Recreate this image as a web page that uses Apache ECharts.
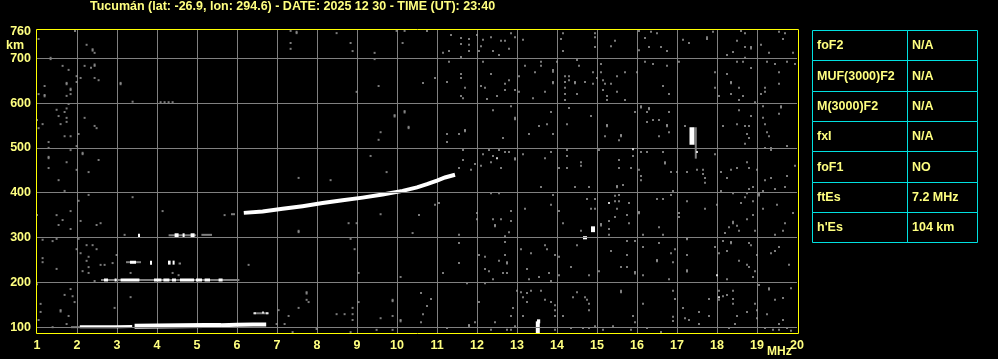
<!DOCTYPE html>
<html>
<head>
<meta charset="utf-8">
<script src="https://cdn.jsdelivr.net/npm/echarts@6/dist/echarts.min.js"></script>
<style>
html,body{margin:0;padding:0;background:#000;}
#chart{width:998px;height:359px;}
</style>
</head>
<body>
<div id="chart"></div>
<script>
// ---------- DATA ----------
const titleText = 'Tucumán (lat: -26.9, lon: 294.6) - DATE: 2025 12 30 - TIME (UT): 23:40';
const heightLabels = [100, 200, 300, 400, 500, 600, 700, 760];
const heightGridLines = [100, 200, 300, 400, 500, 600, 700];
const tableLabels = ['foF2', 'MUF(3000)F2', 'M(3000)F2', 'fxI', 'foF1', 'ftEs', "h'Es"];
const tableValues = ['N/A', 'N/A', 'N/A', 'N/A', 'NO', '7.2 MHz', '104 km'];

// Es trace (bright echo ~103 km)
const esThin = [[[2.07, 101], [2.6, 101], [3.0, 101], [3.38, 101.5]]];
const esThick = [[[3.44, 102], [4.0, 102.5], [4.6, 103], [5.2, 103.5], [5.6, 104]]];
const esUpper = [[[5.6, 104.5], [6.0, 105.5], [6.4, 106], [6.73, 106]]];
// F-layer trace
const fTrace = [[[6.17, 355], [6.64, 358], [7.14, 364], [7.64, 370], [8.14, 377], [8.64, 383], [9.14, 389], [9.64, 396], [10.14, 404], [10.5, 412], [10.75, 419], [11.0, 427], [11.2, 434], [11.45, 440]]];
// Multiple-hop Es echoes (white parts)
const hopWhite3 = [
  [[2.675, 205.5], [2.775, 205.5]], [[2.94, 205.5], [2.99, 205.5]], [[3.09, 205.5], [3.56, 205.5]],
  [[3.925, 205.5], [4.11, 205.5]], [[4.16, 205.5], [4.31, 205.5]], [[4.375, 205.5], [4.475, 205.5]],
  [[4.575, 205.5], [4.925, 205.5]], [[4.975, 205.5], [5.125, 205.5]], [[5.19, 205.5], [5.325, 205.5]],
  [[5.54, 205.5], [5.64, 205.5]], [[3.325, 245], [3.475, 245]]
];
const hopWhite4 = [
  [[3.825, 244], [3.875, 244]], [[4.275, 244], [4.34, 244]], [[4.39, 244], [4.44, 244]],
  [[4.44, 305], [4.54, 305]], [[4.64, 305], [4.69, 305]], [[4.84, 305], [4.94, 305]],
  [[3.525, 304], [3.575, 304]], [[13.52, 86], [13.52, 113]], [[13.5, 113], [13.58, 113]],
  [[14.9, 312], [14.9, 325]], [[14.7, 296], [14.7, 303]]
];
const hopGray = [
  [[2.6, 205.5], [6.06, 205.5]], [[1.85, 100], [2.07, 100]], [[3.225, 245], [3.6, 245]],
  [[4.54, 242], [4.6, 242]], [[4.29, 305], [4.98, 305]], [[5.11, 306], [5.375, 306]],
  [[6.4, 131], [6.8, 131]], [[17.47, 476], [17.47, 546]], [[5.85, 352], [5.95, 352]]
];
// Spread-F like blob at 17.4 MHz
const blobWhite = [[[17.375, 507], [17.375, 546]]];
// isolated bright pixels
const whiteDots = [[15.3, 377], [18.0, 216], [18.05, 167], [15.9, 497], [12.5, 477], [17.5, 491], [6.45, 131], [6.65, 133], [6.75, 131], [3.85, 244]];
// grey noise pixels
const noiseDots = [
  [1.95,761],[1.04,743],[1.34,701],[1.34,698],[2.24,730],[2.39,720],[2.39,717],[2.44,712],[1.64,683],[1.79,674],[2.19,683],[2.35,679],[2.44,686],[2.44,683],
  [1.99,660],[2.09,656],[2.44,656],[2.54,651],[1.74,645],[1.74,642],[1.84,632],[1.84,629],[1.19,638],[1.04,620],[1.19,618],[1.19,615],[1.74,616],[1.84,620],
  [3.09,645],[3.09,642],[1.99,647],[3.39,603],[4.09,602],[4.19,602],[4.29,602],[4.39,602],[1.79,598],[1.49,585],[1.74,588],[1.69,580],[1.54,571],[1.74,567],
  [2.19,567],[1.0,562],[1.14,553],[1.59,553],[1.74,558],[2.44,549],[2.49,544],[1.04,544],[1.69,526],[1.84,526],[2.04,531],[1.29,513],[1.99,504],[1.29,500],
  [1.29,480],[1.29,477],[1.84,495],[2.14,489],[2.14,486],[1.74,468],[2.54,473],[1.29,455],[1.99,451],[2.29,446],[1.54,428],
  [7.34,761],[7.49,759],[7.49,756],[7.34,734],[7.34,721],[8.49,756],[8.84,734],[8.89,716],[9.44,712],[9.44,698],[9.99,761],[10.19,761],[10.14,734],
  [9.54,638],[8.99,625],[9.94,573],[9.94,570],[10.19,582],[10.19,579],[10.29,547],[10.29,544],[9.59,535],[9.54,518],[9.34,482],[9.74,446],[7.54,433],[8.34,428],
  [10.75,761],[11.35,752],[11.6,745],[11.6,732],[11.8,743],[11.8,730],[11.8,716],[12.0,752],[12.15,741],[12.1,727],[12.35,747],[12.6,739],[12.7,739],[12.85,756],
  [12.95,747],[12.8,721],[13.15,741],[12.4,716],[12.55,707],[12.05,716],[11.15,712],[11.3,716],[11.6,703],[14.15,756],[14.1,743],[14.15,716],[14.95,756],
  [14.95,747],[14.95,725],[15.35,727],[15.45,739],[16.05,761],[16.2,745],[16.35,759],[16.5,756],[16.05,718],[16.3,725],[16.6,725],[16.75,716],[17.15,741],
  [17.3,734],[17.75,747],[17.75,743],[17.9,759],[18.6,761],[18.7,756],[18.5,739],[18.85,725],[18.85,722],[18.7,725],[19.1,730],[18.4,714],[18.25,707],[18.7,701],
  [19.55,759],[19.7,756],[19.65,743],[19.3,712],[19.9,712],[11.3,692],[10.65,645],[10.95,656],[11.25,647],[11.6,665],[11.6,656],[11.7,634],[11.6,616],[11.65,611],
  [12.15,692],[12.35,665],[12.1,638],[12.2,634],[12.25,609],[12.5,616],[12.7,643],[12.7,629],[12.8,651],[12.95,629],[13.05,660],[13.05,625],[13.2,683],
  [13.4,611],[13.45,669],[13.6,692],[13.6,683],[13.7,625],[13.9,674],[13.9,670],[13.9,647],[13.9,644],[14.0,692],[14.2,660],[14.2,647],[14.2,634],[14.2,620],[14.2,607],
  [14.3,660],[14.3,651],[14.45,647],[14.45,644],[14.5,620],[14.55,683],[14.5,696],[14.7,647],[14.9,669],[14.9,643],[15.0,656],[15.1,687],[15.1,669],[15.15,651],
  [15.15,629],[15.2,643],[15.25,616],[15.25,607],[15.35,643],[15.5,660],[15.5,625],[15.7,669],[15.7,607],[16.0,669],[16.2,692],[16.4,687],[16.65,638],
  [16.75,683],[16.8,620],[17.05,692],[17.95,669],[17.95,634],[18.05,616],[18.25,665],[18.35,647],[18.35,644],[18.35,620],[18.55,634],[18.55,607],[18.65,616],
  [18.5,692],[18.65,692],[18.85,678],[19.1,620],[19.2,634],[19.2,625],[19.25,692],[19.45,687],[19.55,669],[19.55,643],[19.75,692],[19.95,687],[18.95,602],
  [12.4,584],[12.95,567],[12.95,564],[12.85,593],[11.7,540],[11.7,537],[11.55,531],[11.25,531],[11.25,513],[12.65,522],[13.3,531],[13.55,549],[13.75,553],
  [13.85,580],[13.9,531],[14.25,553],[14.3,589],[14.85,571],[15.25,551],[15.25,548],[15.2,526],[15.6,529],[15.6,526],[15.55,517],[15.95,580],[16.1,593],
  [16.1,590],[16.25,580],[16.3,589],[16.3,586],[16.25,558],[16.4,562],[16.55,562],[16.75,551],[16.75,548],[16.8,580],[16.8,535],[16.55,526],[17.2,549],
  [18.15,549],[18.55,584],[18.5,553],[18.7,549],[18.8,549],[18.75,531],[18.85,571],[18.8,522],[18.7,509],[19.15,593],[19.15,567],[19.2,553],[19.25,535],
  [19.3,526],[19.55,576],[19.6,593],[19.6,590],[19.75,504],[19.35,500],[19.2,500],
  [11.65,495],[11.65,473],[11.55,455],[11.85,451],[11.95,464],[12.15,486],[12.3,495],[12.4,482],[12.55,495],[12.7,491],[12.8,491],[12.95,477],[12.95,474],
  [12.6,455],[12.35,468],[12.1,460],[13.15,486],[13.7,477],[13.85,491],[14.05,455],[14.25,495],[14.25,482],[14.25,455],[14.6,468],[14.6,460],[15.05,495],
  [15.55,473],[15.55,455],[15.85,455],[16.05,451],[16.1,437],[16.1,428],[15.9,482],[16.1,491],[16.25,491],[16.65,491],[16.7,468],[16.7,465],[16.85,446],
  [17.0,446],[17.25,446],[17.5,451],[17.65,451],[17.65,442],[17.7,433],[17.95,486],[18.1,446],[18.25,433],[18.35,451],[18.5,455],[18.75,468],[18.8,455],
  [19.0,451],[19.35,495],[19.75,437],[19.95,460],[19.35,433],[19.2,428],
  [1.69,404],[2.29,395],[2.04,382],[3.39,390],[1.0,350],[1.49,350],[1.64,339],[1.54,328],[1.84,359],[1.84,319],[2.09,337],[2.49,328],[2.59,332],[4.14,359],
  [5.69,350],[3.19,306],[1.14,295],[1.39,292],[1.49,297],[2.04,297],[1.99,274],[2.09,265],[2.24,283],[2.39,283],[2.49,274],[2.29,257],[2.24,248],[2.99,261],
  [1.14,254],[1.14,245],[1.49,230],[2.14,225],[2.29,234],[2.29,221],[2.44,203],[2.59,239],[2.69,239],[2.89,243],[3.34,221],[4.39,221],[4.54,216],[6.29,239],
  [1.0,196],[1.84,185],[1.89,169],[1.69,172],[1.09,152],[1.09,134],[1.59,138],[1.59,135],[1.79,125],[1.74,107],[1.04,116],[1.39,100],[1.94,156],[2.94,143],
  [3.34,167],[7.04,138],[6.99,107],[7.19,107],[7.29,125],[7.54,143],[7.74,178],[7.74,175],[7.74,161],[7.79,156],[7.39,89],[7.99,96],[8.49,129],[8.69,129],
  [8.89,143],[8.89,129],[8.89,116],[8.84,89],[9.04,156],[9.49,94],[9.59,120],[9.89,161],[9.89,158],[9.89,125],[10.09,116],[10.09,113],[9.89,94],[9.59,352],
  [8.79,332],[8.99,332],[8.94,274],[9.04,221],[10.09,212],[10.39,310],[8.84,297],[7.54,315],[7.54,312],
  [13.6,413],[14.45,413],[14.8,413],[15.5,415],[15.5,412],[15.65,417],[14.75,386],[14.95,386],[14.85,364],[14.95,364],[15.45,393],[15.55,395],[15.45,381],
  [15.55,381],[15.8,377],[15.5,364],[15.75,350],[15.45,346],[15.3,337],[15.3,319],[15.3,306],[15.1,330],[15.1,327],[15.8,332],[16.05,357],[16.05,354],[16.5,386],
  [16.65,386],[16.85,395],[16.9,404],[17.25,381],[17.05,355],[17.05,346],[17.7,364],[17.7,422],[16.55,323],[16.65,306],[16.15,306],[17.25,299],[17.25,296],
  [18.0,373],[18.1,404],[18.4,399],[18.6,377],[18.7,390],[18.75,399],[18.8,408],[18.9,413],[18.9,381],[19.05,397],[19.05,394],[19.15,404],[19.45,408],
  [19.7,413],[19.5,373],[19.15,364],[19.9,355],[18.9,350],[18.75,341],[18.4,335],[18.4,332],[18.3,323],[18.5,326],[18.55,315],[18.2,310],[18.95,315],[19.45,306],
  [19.65,315],[19.7,332],[10.95,373],[11.05,377],[10.55,350],[11.55,306],[11.55,288],[11.55,243],[11.15,221],[12.0,355],[12.0,341],[12.4,341],[12.45,328],
  [12.45,325],[12.6,341],[12.85,359],[12.85,337],[12.8,312],[12.7,303],[12.7,290],[12.55,399],[12.35,399],[13.2,364],[13.85,373],[13.9,395],[14.05,359],
  [14.15,332],[14.6,315],[12.05,261],[12.2,257],[12.3,225],[12.55,248],[12.7,261],[12.75,245],[12.75,242],[12.65,221],[12.75,221],[13.1,274],[13.35,265],
  [13.25,230],[13.3,207],[13.55,212],[13.7,283],[13.75,274],[13.95,261],[13.8,221],[13.85,203],[14.05,257],[14.05,216],[14.35,234],[14.5,283],[14.8,216],
  [15.05,225],[15.35,270],[15.6,234],[15.75,261],[15.75,234],[15.95,223],[15.95,220],[15.75,292],[15.95,292],[16.15,279],[16.15,216],[16.5,250],[16.5,247],
  [16.55,288],[16.8,207],[16.9,245],[16.85,265],[16.95,274],[17.25,261],[17.25,227],[17.25,224],[17.95,279],[18.05,265],[18.15,292],[18.25,270],[18.35,290],
  [18.35,287],[18.55,248],[18.75,239],[18.8,234],[18.8,288],[18.85,283],[18.95,225],[18.9,212],[19.35,265],[19.45,270],[19.55,279],[19.8,239],[19.0,261],
  [18.25,207],[12.2,230],[12.4,207],[12.2,198],[11.75,198],
  [10.6,176],[10.85,163],[10.75,147],[10.65,129],[10.6,111],[11.25,98],[12.05,156],[11.95,111],[11.8,105],[11.8,102],[12.35,94],[12.45,111],[12.75,94],
  [12.85,94],[12.95,102],[12.9,143],[12.85,125],[13.0,181],[13.1,178],[13.15,167],[13.25,176],[13.25,156],[13.35,181],[13.15,125],[13.6,181],[13.7,161],
  [13.85,156],[13.95,149],[13.95,138],[13.95,125],[14.15,125],[13.95,94],[14.4,167],[14.5,178],[14.7,167],[14.75,161],[14.8,152],[14.8,138],[14.35,98],
  [14.65,98],[14.8,98],[14.95,102],[15.15,94],[15.4,102],[15.6,181],[15.6,178],[15.9,125],[15.95,111],[15.85,94],[16.15,152],[16.25,98],[16.6,89],[16.9,181],
  [16.95,163],[16.9,123],[16.9,114],[17.15,143],[17.2,120],[17.3,116],[17.55,134],[17.55,107],[17.8,163],[17.8,125],[18.05,181],[18.05,161],[18.15,169],
  [18.25,172],[18.4,181],[18.4,163],[18.4,152],[18.5,125],[18.45,107],[18.3,98],[18.75,134],[18.95,152],[19.0,138],[19.0,120],[19.25,129],[19.3,187],
  [19.3,184],[19.05,194],[19.45,161],[19.65,165],[19.65,116],[19.75,98],[19.85,187],[19.4,94],[19.55,107],[19.2,98],[19.55,94],[19.85,92]
];

// ---------- STYLE ----------
const YELLOW_TEXT = '#ffff80';
const YELLOW_LINE = '#ffff00';
const GRID_GRAY = '#808080';
const NOISE_GRAY = '#9a9a9a';
const CYAN = '#00e0e0';
const FONT = "'Liberation Sans', Arial, sans-serif";

function segSeries(segs, color, width, z) {
  return {
    type: 'lines', coordinateSystem: 'cartesian2d', polyline: true, silent: true, z: z,
    lineStyle: { color: color, width: width, opacity: 1, curveness: 0, cap: 'butt' },
    data: segs.map(s => ({ coords: s }))
  };
}

// Table graphics
const tableGraphics = [];
const tX0 = 812.5, tX1 = 907.5, tX2 = 977.5;
for (let i = 0; i < tableLabels.length; i++) {
  const top = 30.5 + Math.round(i * 30.3);
  const bottom = 30.5 + Math.round((i + 1) * 30.3);
  const mid = (top + bottom) / 2;
  tableGraphics.push({ type: 'rect', shape: { x: tX0, y: top, width: tX1 - tX0, height: bottom - top }, style: { fill: 'none', stroke: CYAN, lineWidth: 1 }, silent: true });
  tableGraphics.push({ type: 'rect', shape: { x: tX1, y: top, width: tX2 - tX1, height: bottom - top }, style: { fill: 'none', stroke: CYAN, lineWidth: 1 }, silent: true });
  tableGraphics.push({ type: 'text', x: 817, y: mid + 0.5, style: { text: tableLabels[i], fill: YELLOW_TEXT, fontSize: 12.5, fontWeight: 'bold', fontFamily: 'Liberation Sans', textAlign: 'left', textVerticalAlign: 'middle' }, silent: true });
  tableGraphics.push({ type: 'text', x: 912, y: mid + 0.5, style: { text: tableValues[i], fill: YELLOW_TEXT, fontSize: 12.5, fontWeight: 'bold', fontFamily: 'Liberation Sans', textAlign: 'left', textVerticalAlign: 'middle' }, silent: true });
}

const chart = echarts.init(document.getElementById('chart'), null, { renderer: 'canvas' });
chart.setOption({
  backgroundColor: '#000',
  animation: false,
  title: {
    text: titleText, left: 90, top: 0, padding: 0,
    textStyle: { color: YELLOW_TEXT, fontSize: 12.5, fontWeight: 'bold', fontFamily: FONT }
  },
  grid: { left: 37, right: 201, top: 30, bottom: 26, show: false },
  xAxis: {
    type: 'value', min: 1, max: 20, interval: 1,
    axisLine: { show: false }, axisTick: { show: false },
    axisLabel: { color: YELLOW_TEXT, fontSize: 12.5, fontWeight: 'bold', fontFamily: FONT, margin: 6, showMaxLabel: true, showMinLabel: true },
    splitLine: { show: true, showMinLine: false, showMaxLine: false, lineStyle: { color: GRID_GRAY, width: 1 } }
  },
  yAxis: {
    type: 'value', min: 87, max: 763,
    axisLine: { show: false }, axisTick: { show: false },
    axisLabel: { color: YELLOW_TEXT, fontSize: 12.5, fontWeight: 'bold', fontFamily: FONT, margin: 6, customValues: heightLabels },
    splitLine: { show: false }
  },
  graphic: [
    { type: 'rect', shape: { x: 36.5, y: 29.5, width: 762, height: 304 }, style: { fill: 'none', stroke: YELLOW_LINE, lineWidth: 1 }, z: 100, silent: true },
    { type: 'text', x: 6, y: 46, style: { text: 'km', fill: YELLOW_TEXT, fontSize: 12.5, fontWeight: 'bold', fontFamily: 'Liberation Sans', textAlign: 'left', textVerticalAlign: 'middle' }, silent: true },
    { type: 'text', x: 767, y: 351.5, style: { text: 'MHz', fill: YELLOW_TEXT, fontSize: 12, fontWeight: 'bold', fontFamily: 'Liberation Sans', textAlign: 'left', textVerticalAlign: 'middle' }, silent: true }
  ].concat(tableGraphics),
  series: [
    {
      type: 'scatter', symbol: 'rect', symbolSize: [2, 2], silent: true, z: 2,
      itemStyle: { color: NOISE_GRAY },
      data: noiseDots,
      markLine: {
        silent: true, symbol: ['none', 'none'], animation: false,
        label: { show: false },
        lineStyle: { color: GRID_GRAY, type: 'solid', width: 1 },
        data: heightGridLines.map(v => ({ yAxis: v }))
      }
    },
    segSeries(hopGray, GRID_GRAY, 2, 3),
    segSeries(esThin, '#ffffff', 3, 4),
    segSeries(esThick, '#ffffff', 5, 4),
    segSeries(esUpper, '#ffffff', 4, 4),
    segSeries(fTrace, '#ffffff', 4, 4),
    segSeries(hopWhite3, '#ffffff', 3, 4),
    segSeries(hopWhite4, '#ffffff', 4, 4),
    segSeries(blobWhite, '#ffffff', 5, 4),
    {
      type: 'scatter', symbol: 'rect', symbolSize: [2, 2], silent: true, z: 5,
      itemStyle: { color: '#ffffff' }, data: whiteDots
    }
  ]
});
</script>
</body>
</html>
